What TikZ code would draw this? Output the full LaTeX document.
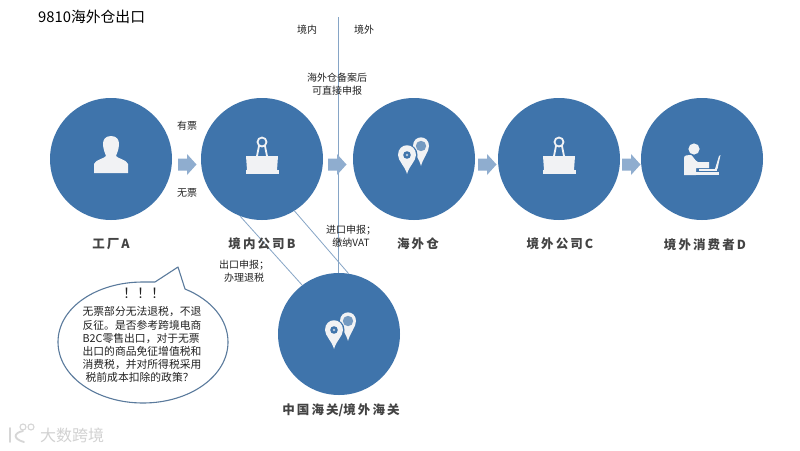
\documentclass[tikz,border=0pt]{standalone}
\usepackage{fontspec}
\setmainfont{Liberation Sans}
\newfontfamily\cjk{Noto Sans CJK SC}
\definecolor{disc}{HTML}{3F74AB}
\definecolor{iconc}{HTML}{F1F2F4}
\definecolor{arrowc}{HTML}{8FADCF}
\definecolor{linec}{HTML}{86A5C6}
\definecolor{edgec}{HTML}{5A7A9C}
\definecolor{txt}{HTML}{222222}
\tikzset{
 x=1pt,y=-1pt,
 discnode/.style={circle,fill=disc,draw=none,minimum size=122pt,inner sep=0pt},
 small/.style={font=\cjk\fontsize{10}{13.5}\selectfont,text=txt,align=center,inner sep=0pt},
 captext/.style={font=\cjk\bfseries\fontsize{12.5}{14}\selectfont,text=txt!85!white,inner sep=0pt},
 rule/.style={draw=linec,line width=0.8pt},
 flowarrow/.pic={\fill[arrowc] (-9,-6) -- (0,-6) -- (0,-10.5) -- (9.5,0) -- (0,10.5) -- (0,6) -- (-9,6) -- cycle;},
 person/.pic={\fill[iconc] (0,-23) .. controls (-6,-23) and (-8,-19) .. (-8,-15) .. controls (-8,-10) and (-6,-6) .. (-5,-3) .. controls (-7,0) and (-15,0) .. (-17,5) -- (-17,14) -- (17,14) -- (17,5) .. controls (15,0) and (7,0) .. (5,-3) .. controls (6,-6) and (8,-10) .. (8,-15) .. controls (8,-19) and (6,-23) .. (0,-23) -- cycle;},
 clip/.pic={
  \fill[iconc] (-16,-3) -- (16,-3) -- (15,11) -- (-15,11) -- cycle;
  \fill[iconc] (-16.5,11) rectangle (16.5,15);
  \draw[iconc,line width=1.8pt,line join=round] (-5,-3) -- (-3,-13) (5,-3) -- (3,-13);
  \draw[iconc,line width=1.8pt] (0,-17) circle (4.5);
 },
 pins/.pic={
  \begin{scope}[shift={(7,-9)}]
   \fill[iconc] (0,20) .. controls (-2,12) and (-8,6) .. (-8,0) .. controls (-8,-11.5) and (8,-11.5) .. (8,0) .. controls (8,6) and (2,12) .. (0,20) -- cycle;
   \fill[disc!70!iconc] (0,0) circle (5.2);
  \end{scope}
  \begin{scope}[shift={(-7,0)}]
   \fill[disc] (0,22) .. controls (-2.5,13) and (-10.5,7) .. (-10.5,0) .. controls (-10.5,-14) and (10.5,-14) .. (10.5,0) .. controls (10.5,7) and (2.5,13) .. (0,22) -- cycle;
   \fill[iconc] (0,19) .. controls (-2,11) and (-9,6) .. (-9,0) .. controls (-9,-13) and (9,-13) .. (9,0) .. controls (9,6) and (2,11) .. (0,19) -- cycle;
   \fill[disc] (0,0) circle (3.8);
   \fill[iconc!70!disc] (0,0) circle (1.4);
  \end{scope}
 },
 worker/.pic={
  \fill[iconc] (-8,-10) circle (5.6);
  \fill[iconc] (-18,-1) .. controls (-18,-4) and (-14,-4) .. (-11,-4) .. controls (-9,-3) and (-7,2) .. (-4,3) -- (7,3) -- (7,9) -- (-6,9) -- (-6,16) -- (-18,16) -- cycle;
  \fill[iconc] (-3,10) -- (15,10) -- (15,12) -- (-3,12) -- cycle;
  \fill[iconc] (-7,13) -- (17,13) -- (17,15.5) -- (-7,15.5) -- cycle;
  \fill[iconc] (13,10) -- (17,-3) -- (18.5,-4) -- (15.5,10) -- cycle;
 },
}
\begin{document}
\begin{tikzpicture}
\useasboundingbox[fill=white] (0,0) rectangle (800,450);
\coordinate (vtop) at (338,17);
\coordinate (vbot) at (338,273);
\node[discnode] (A) at (111,159) {};
\node[discnode] (B) at (262,159) {};
\node[discnode] (W) at (414,159) {};
\node[discnode] (C) at (559,159) {};
\node[discnode] (D) at (702,159) {};
\node[discnode] (G) at (339,334) {};
% rules
\draw[rule,line width=1pt] (vtop) -- (vbot);
\draw[rule] (B.-111) -- (G.127);
\draw[rule] (B.-58) -- (G.81);
% flow arrows
\pic at (187,164.5) {flowarrow};
\pic at (337,164.5) {flowarrow};
\pic at (487,164.5) {flowarrow};
\pic at (631,164.5) {flowarrow};
% icons
\pic at (111,159) {person};
\pic at (262,159) {clip};
\pic at (414,155) {pins};
\pic at (559,159) {clip};
\pic at (702,159) {worker};
\pic at (341,330) {pins};
% title
\node[anchor=west,inner sep=0pt,font=\cjk\fontsize{14.8}{16}\selectfont,text=black] (title) at (38,17) {9810海外仓出口};
% small labels
\node[small] (l1) at (307,30) {境内};
\node[small] (l2) at (364,30) {境外};
\node[small] (l3) at (337,84) {海外仓备案后\\可直接申报};
\node[small] (l4) at (187,126) {有票};
\node[small] (l5) at (187,193) {无票};
\node[small] (l6) at (351,236) {进口申报；\\缴纳VAT};
\node[small] (l7) at (244,271) {出口申报；\\办理退税};
% captions
\node[captext] (c1) at (111,244) {工\,厂\,A};
\node[captext] (c2) at (262,244) {境\,内\,公\,司\,B};
\node[captext] (c3) at (418,244) {海\,外\,仓};
\node[captext] (c4) at (560,244) {境\,外\,公\,司\,C};
\node[captext] (c5) at (705,245) {境\,外\,消\,费\,者\,D};
\node[captext] (c6) at (341,410) {中\,国\,海\,关/境\,外\,海\,关};
% callout
\coordinate (tip) at (178,267);
\draw[draw=edgec,fill=white,line width=1.1pt,line join=round]
  (155,282) -- (tip) -- (185,289)
  .. controls (212,300) and (228,320) .. (228,342)
  .. controls (228,376) and (190,403) .. (143,403)
  .. controls (96,403) and (58,376) .. (58,342)
  .. controls (58,308) and (96,282) .. (143,282)
  .. controls (147,282) and (151,282) .. cycle;
\node[font=\cjk\fontsize{14}{14}\selectfont,text=txt,inner sep=0pt] (ex) at (144,293) {！！！};
\node[font=\cjk\fontsize{10.8}{13.2}\selectfont,text=txt,align=left,inner sep=0pt,anchor=north] (body) at (142,306.5) {无票部分无法退税，不退\\反征。是否参考跨境电商\\B2C零售出口，对于无票\\出口的商品免征增值税和\\消费税，并对所得税采用\\\hspace*{3pt}税前成本扣除的政策？};
% watermark
\draw[gray!32,line width=1.8pt,line cap=round] (10,428) -- (10,442) (23,431) .. controls (13,433) and (13,439) .. (24,442);
\draw[gray!32,line width=1.1pt] (23,427) circle (3) (31,427) circle (3);
\node[font=\cjk\fontsize{16}{16}\selectfont,text=gray!35,inner sep=0pt,anchor=west] (wm) at (40,435) {大数跨境};
\end{tikzpicture}
\end{document}
